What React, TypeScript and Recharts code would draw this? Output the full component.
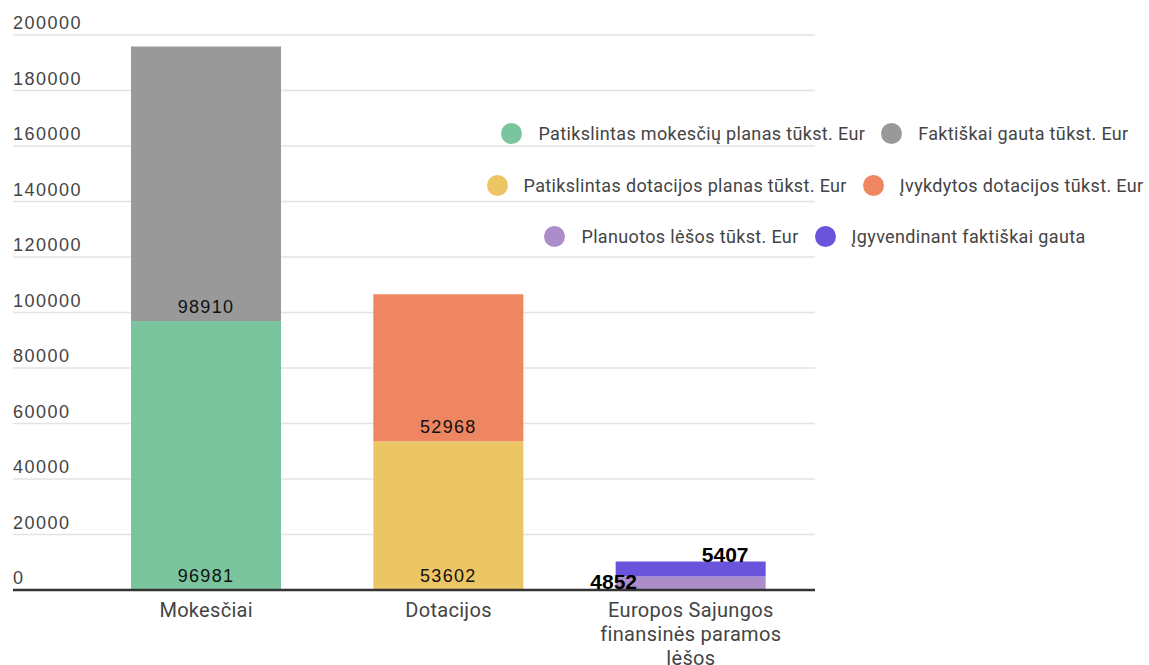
import { BarChart, Bar, XAxis, YAxis, CartesianGrid, LabelList } from 'recharts'

const categories = ['Mokesčiai', 'Dotacijos', 'Europos Sajungos finansinės paramos lėšos']
const categoryLines = [['Mokesčiai'], ['Dotacijos'], ['Europos Sajungos', 'finansinės paramos', 'lėšos']]

const mokesciuPlanas = [96981, null, null]
const faktiskaiGauta = [98910, null, null]
const dotacijosPlanas = [null, 53602, null]
const ivykdytosDotacijos = [null, 52968, null]
const planuotosLesos = [null, null, 4852]
const igyvendinantGauta = [null, null, 5407]

const yTicks = [0, 20000, 40000, 60000, 80000, 100000, 120000, 140000, 160000, 180000, 200000]

const series = [
  { key: 'mokesciuPlanas', name: 'Patikslintas mokesčių planas tūkst. Eur', color: '#7bc59e', label: 'insideBottom' },
  { key: 'faktiskaiGauta', name: 'Faktiškai gauta tūkst. Eur', color: '#999999', label: 'insideBottom' },
  { key: 'dotacijosPlanas', name: 'Patikslintas dotacijos planas tūkst. Eur', color: '#ecc664', label: 'insideBottom' },
  { key: 'ivykdytosDotacijos', name: 'Įvykdytos dotacijos tūkst. Eur', color: '#ee8662', label: 'insideBottom' },
  { key: 'planuotosLesos', name: 'Planuotos lėšos tūkst. Eur', color: '#ab8ec9', label: 'leftBase' },
  { key: 'igyvendinantGauta', name: 'Įgyvendinant faktiškai gauta', color: '#6b54dc', label: 'aboveRight' },
]

const data = categories.map((name, i) => ({
  name,
  mokesciuPlanas: mokesciuPlanas[i],
  faktiskaiGauta: faktiskaiGauta[i],
  dotacijosPlanas: dotacijosPlanas[i],
  ivykdytosDotacijos: ivykdytosDotacijos[i],
  planuotosLesos: planuotosLesos[i],
  igyvendinantGauta: igyvendinantGauta[i],
}))

const W = 1141
const H = 657
const margin = { top: 27, right: 334, bottom: 5, left: 4 }
const yAxisWidth = 1
const xAxisHeight = 70
const plotLeft = margin.left + yAxisWidth
const plotBottom = H - margin.bottom - xAxisHeight

const YTick = ({ y, payload }: any) => (
  <text
    x={plotLeft}
    y={y - 6}
    textAnchor="start"
    fill="#444"
    fontFamily="'Liberation Sans', Arial, sans-serif"
    fontSize={18}
    letterSpacing={1.5}
  >
    {payload.value}
  </text>
)

const XTick = ({ x, payload, index }: any) => {
  const lines = categoryLines[index] || [payload.value]
  return (
    <text
      x={x}
      y={plotBottom + 27}
      textAnchor="middle"
      fill="#444"
      fontFamily="Roboto, sans-serif"
      fontSize={20}
      letterSpacing={0.3}
    >
      {lines.map((l, i) => (
        <tspan key={i} x={x} dy={i === 0 ? 0 : 24}>
          {l}
        </tspan>
      ))}
    </text>
  )
}

const makeLabel = (variant: string) => (props: any) => {
  const { x, y, width, height, value } = props
  if (value === null || value === undefined || value === 0) return null
  if (variant === 'leftBase') {
    return (
      <text x={x - 2} y={y + height - 1} textAnchor="middle" fill="#000" fontFamily="'Liberation Sans', Arial, sans-serif" fontSize={21} fontWeight="bold">
        {value}
      </text>
    )
  }
  if (variant === 'aboveRight') {
    return (
      <text x={x + width * 0.73} y={y} textAnchor="middle" fill="#000" fontFamily="'Liberation Sans', Arial, sans-serif" fontSize={21} fontWeight="bold">
        {value}
      </text>
    )
  }
  return (
    <text
      x={x + width / 2}
      y={y + height - 8}
      textAnchor="middle"
      fill="#111"
      fontFamily="'Liberation Sans', Arial, sans-serif"
      fontSize={18}
      letterSpacing={1.3}
    >
      {value}
    </text>
  )
}

const legendRows = [series.slice(0, 2), series.slice(2, 4), series.slice(4, 6)]

function Legendas() {
  return (
    <div
      style={{
        position: 'absolute',
        left: 457,
        width: 700,
        top: 100,
        fontFamily: 'Roboto, sans-serif',
        fontSize: 18,
        letterSpacing: 0.35,
        color: '#444',
        whiteSpace: 'nowrap',
      }}
    >
      {legendRows.map((row, r) => (
        <div key={r} style={{ display: 'flex', justifyContent: 'center', alignItems: 'center', height: 51.5 }}>
          {row.map((s, i) => (
            <div key={s.key} style={{ display: 'flex', alignItems: 'center', marginLeft: i === 0 ? 0 : 16, flexShrink: 0 }}>
              <span
                style={{
                  display: 'inline-block',
                  width: 21,
                  height: 21,
                  borderRadius: '50%',
                  background: s.color,
                  marginRight: 16,
                }}
              />
              <span>{s.name}</span>
            </div>
          ))}
        </div>
      ))}
    </div>
  )
}

export default function App() {
  return (
    <div style={{ padding: '8px 8px 0 8px', width: W + 8 }}>
      <style>{'body { margin: 0; }'}</style>
      <div style={{ position: 'relative', width: W, height: H }}>
        <BarChart width={W} height={H} data={data} margin={margin} barSize={150}>
          <CartesianGrid vertical={false} stroke="#e3e3e3" strokeWidth={1.5} />
          <XAxis
            dataKey="name"
            height={xAxisHeight}
            padding={{ left: 72, right: 3 }}
            tickLine={false}
            axisLine={{ stroke: '#333', strokeWidth: 2.5 }}
            tick={<XTick />}
            interval={0}
          />
          <YAxis
            width={yAxisWidth}
            domain={[0, 200000]}
            ticks={yTicks}
            axisLine={false}
            tickLine={false}
            tick={(p: any) => <YTick {...p} />}
            interval={0}
          />
          {series.map((s) => (
            <Bar key={s.key} dataKey={s.key} name={s.name} stackId="a" fill={s.color} isAnimationActive={false}>
              <LabelList dataKey={s.key} content={makeLabel(s.label)} />
            </Bar>
          ))}
        </BarChart>
        <Legendas />
      </div>
    </div>
  )
}
